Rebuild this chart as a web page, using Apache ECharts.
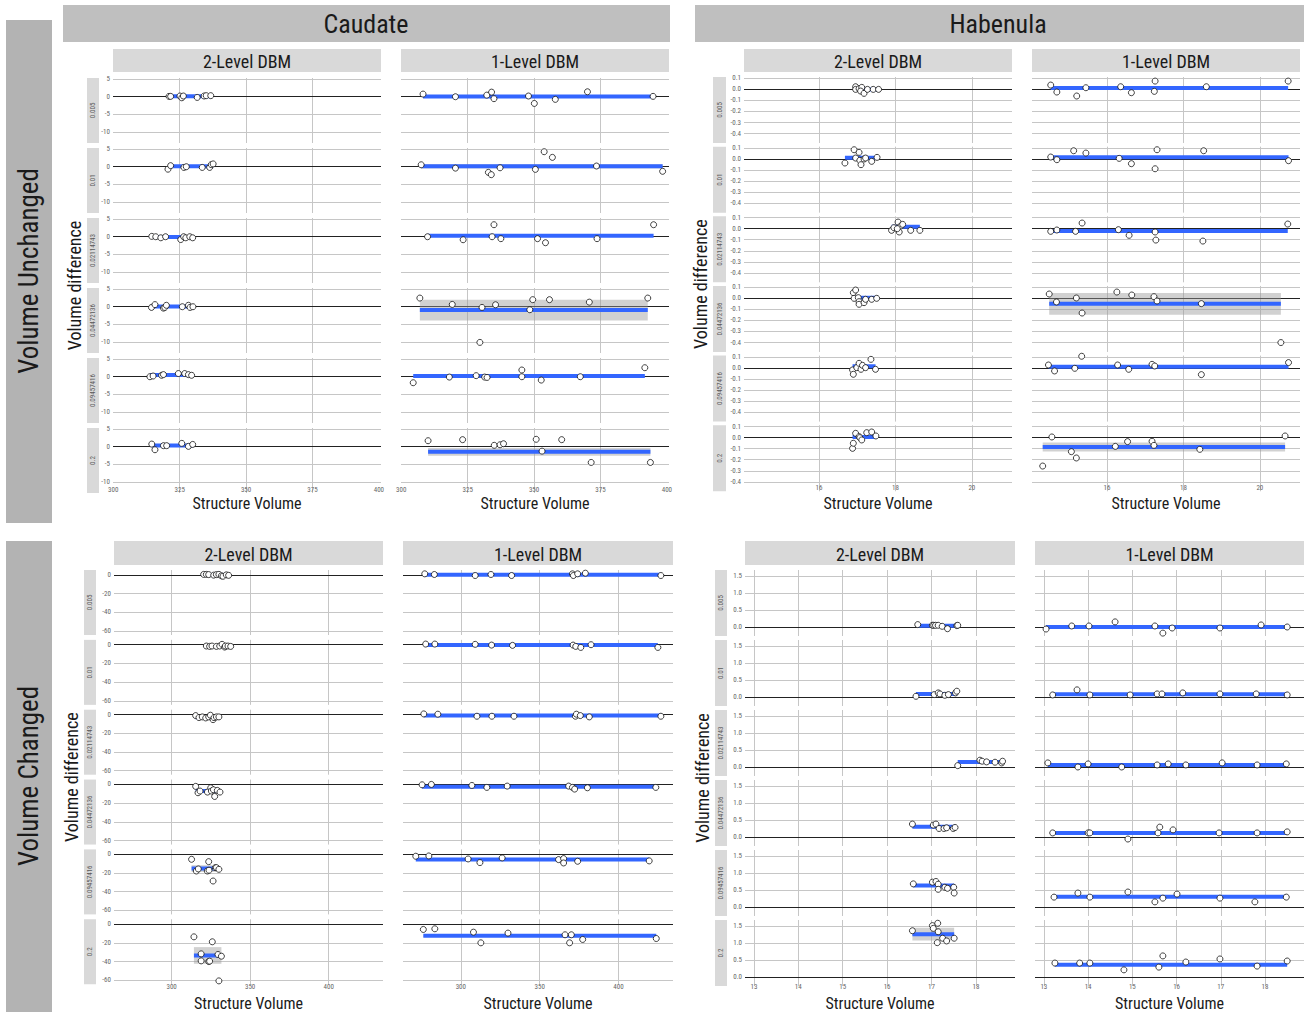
<!DOCTYPE html>
<html>
<head>
<meta charset="UTF-8">
<title>Volume difference vs structure volume</title>
<script src="https://cdn.jsdelivr.net/npm/echarts@6/dist/echarts.min.js"></script>
<style>
  html, body { margin: 0; padding: 0; background: #fff; }
  #chart { width: 1304px; height: 1015px; }
</style>
</head>
<body>
<div id="chart"></div>
<script>
// facet labels
const rowLabels = ['0.005', '0.01', '0.02114743', '0.04472136', '0.09457416', '0.2'];
const colLabels = ['2-Level DBM', '1-Level DBM'];
const structures = ['Caudate', 'Habenula'];
const conditions = ['Volume Unchanged', 'Volume Changed'];

// Caudate, volume unchanged: [structure volume, volume difference]
const cauUnch2L = [
  [[321.0,0.1],[321.6,0.1],[325.1,0.2],[325.8,-0.3],[326.4,0.2],[331.6,-0.2],[334.2,0.2],[335.0,0.3],[336.7,0.3]],
  [[320.6,-0.7],[321.6,0.3],[326.6,-0.2],[327.5,0],[333.5,-0.2],[336.3,-0.2],[336.9,0.6],[337.6,0.8]],
  [[314.5,0.1],[316.0,0],[317.9,-0.3],[319.7,0],[325.4,-0.8],[326.5,0],[327.3,-0.3],[328.8,0],[329.9,-0.3]],
  [[314.4,-0.2],[315.7,0.6],[318.9,-0.4],[319.4,-0.2],[320.0,0.4],[326.0,0],[328.3,0.4],[328.9,-0.2],[330.0,0]],
  [[313.8,0],[315.0,0.2],[318.2,0.4],[318.9,0.6],[324.5,0.9],[326.9,0.9],[328.3,0.6],[329.5,0.4]],
  [[314.5,0.75],[315.7,-0.85],[318.9,0.3],[320.1,0.3],[325.8,0.95],[328.3,0.1],[329.9,0.65]]
];
const cauUnch1L = [
  [[308.2,0.75],[320.4,0],[332.2,0.45],[334.0,1.3],[334.9,-0.55],[347.9,0.2],[350.1,-1.9],[358.0,-0.75],[370.1,1.4],[394.8,0.1]],
  [[307.5,0.55],[320.4,-0.4],[332.8,-1.6],[333.9,-2.25],[337.2,-0.3],[350.5,-0.75],[353.8,4.25],[356.9,2.65],[373.5,0.2],[398.4,-1.3]],
  [[309.9,0],[323.3,-0.85],[334.2,0],[334.9,3.4],[337.5,-0.55],[351.3,-0.55],[354.3,-1.7],[373.7,-0.55],[395.0,3.4]],
  [[307.0,2.45],[319.2,0.65],[330.4,-0.2],[335.5,0.55],[349.5,2.0],[348.4,-0.85],[355.8,2.0],[370.8,1.3],[392.8,2.45],[329.6,-10.1]],
  [[304.5,-1.7],[318.1,-0.1],[328.2,0.3],[331.4,-0.1],[332.3,-0.2],[345.4,1.9],[345.4,0],[352.7,-0.95],[367.4,0],[391.7,2.55]],
  [[310.1,1.7],[323.1,2.0],[335.0,0.4],[337.2,0.55],[338.5,0.85],[350.8,2.1],[353.0,-1.25],[360.4,2.0],[371.5,-4.45],[393.8,-4.45]]
];
const cauUnchFit = [[0.1, 0.15, -0.1, 0.05, 0.5, 0.35], [0.05, 0.1, 0.3, -0.95, 0.19, -1.45]];
const cauUnchCi = [[0, 0, 0, 0, 0, 0], [0, 0.6, 0, 2.95, 0, 1.1]];

// Habenula, volume unchanged
const habUnch2L = [
  [[16.96,0.024],[16.96,0.0],[17.05,0.006],[17.12,0.018],[17.09,-0.015],[17.18,-0.036],[17.27,0],[17.42,0],[17.56,0]],
  [[16.68,-0.036],[16.92,0.084],[17.05,0.06],[16.96,0.009],[17.07,-0.012],[17.10,-0.051],[17.18,0],[17.22,0.009],[17.38,-0.021],[17.52,0.015]],
  [[17.90,-0.015],[17.96,0.009],[18.07,0.06],[18.14,0.024],[18.19,0.039],[18.10,-0.03],[18.05,0],[18.40,-0.015],[18.64,-0.015]],
  [[16.90,0.051],[16.96,0.075],[16.92,0],[17.03,0.006],[17.05,-0.03],[17.05,-0.054],[17.18,-0.039],[17.22,-0.009],[17.38,-0.009],[17.51,0]],
  [[16.88,-0.018],[16.90,-0.057],[16.99,0.003],[17.05,0.042],[17.10,-0.012],[17.14,0.024],[17.22,0.003],[17.36,0.078],[17.48,-0.012]],
  [[16.88,-0.097],[16.90,-0.051],[16.96,0.039],[17.05,0.009],[17.07,0],[17.12,-0.021],[17.25,0.045],[17.38,0.051],[17.49,0.015]]
];
const habUnch1L = [
  [[14.53,0.039],[14.69,-0.024],[15.21,-0.06],[15.45,0.015],[16.36,0.024],[16.64,-0.03],[17.24,-0.018],[17.26,0.075],[18.60,0.024],[20.74,0.075]],
  [[14.53,0.018],[14.69,-0.006],[15.13,0.075],[15.45,0.054],[16.32,0.006],[16.64,-0.042],[17.26,-0.088],[17.31,0.084],[18.53,0.075],[20.75,-0.015]],
  [[14.53,-0.024],[14.69,-0.012],[15.18,-0.024],[15.35,0.051],[16.30,-0.009],[16.58,-0.06],[17.26,-0.03],[17.28,-0.103],[18.51,-0.112],[20.73,0.042]],
  [[14.49,0.039],[14.68,-0.033],[15.20,0.003],[15.35,-0.133],[16.26,0.057],[16.65,0.03],[17.23,0.015],[17.31,-0.024],[18.47,-0.048],[20.55,-0.40]],
  [[14.47,0.027],[14.63,-0.027],[15.16,-0.003],[15.34,0.106],[16.28,0.027],[16.57,-0.012],[17.18,0.033],[17.25,0.018],[18.47,-0.06],[20.75,0.049]],
  [[14.56,0.006],[14.32,-0.257],[15.07,-0.127],[15.20,-0.184],[16.22,-0.079],[16.54,-0.036],[17.18,-0.033],[17.23,-0.07],[18.43,-0.106],[20.66,0.015]]
];
const habUnchFit = [[0.0, 0.012, 0.018, 0.005, 0.015, 0.005], [0.012, 0.016, -0.022, -0.05, 0.012, -0.085]];
const habUnchCi = [[0, 0, 0, 0, 0, 0], [0, 0, 0, 0.098, 0, 0.04]];

// Caudate, volume changed
const cauChg2L = [
  [[320.4,0.5],[322.1,0.5],[323.6,0.3],[326.8,-0.3],[328.5,0.3],[330.1,0.5],[331.7,-1],[332.7,-1.5],[334.8,0],[336.3,-0.5]],
  [[322.1,-1.4],[324.2,-1.8],[325.7,-1.4],[328.5,-1.8],[330.6,-1.4],[332.1,0.4],[333.8,-2.5],[334.2,-1.4],[335.9,-1.4],[337.6,-1.8]],
  [[315.3,-1.1],[317.4,-3.2],[319.5,-2.5],[321.7,-3.6],[323.6,-2.5],[324.7,-0.7],[326.4,-5.4],[327.0,-3.2],[328.5,-2.5],[330.1,-2.5]],
  [[315.3,-2.1],[316.8,-8.9],[318.1,-7.1],[322.8,-8.2],[324.9,-3.6],[325.3,-7.1],[326.6,-5.7],[327.4,-12.9],[329.1,-6.4],[330.8,-8.2]],
  [[312.7,-5.4],[315.7,-17.9],[317.0,-15.7],[322.7,-17.9],[323.6,-7.9],[323.8,-17.1],[326.4,-28.6],[327.8,-14.3],[328.5,-14.3],[330.1,-16.1]],
  [[314.2,-13.6],[318.8,-31.8],[318.8,-39.3],[323.6,-40],[324.2,-39.6],[325.9,-18.9],[329.5,-32.5],[331.7,-34.3],[330.1,-60.7]]
];
const cauChg1L = [
  [[277.1,1.1],[283.2,0.4],[309.1,-0.7],[319.1,0.4],[332.2,-0.7],[370.8,1.1],[371.4,-0.7],[374.1,1.1],[379.0,1.8],[426.9,-0.7]],
  [[277.7,0.7],[283.5,0.7],[309.1,0.4],[319.5,-0.4],[332.8,-0.7],[371.2,-0.4],[372.9,-1.8],[376.1,-2.9],[382.6,0],[425.0,-2.9]],
  [[276.5,0.7],[285.4,0.4],[310.2,-1.8],[319.7,-1.8],[333.7,-1.8],[372.7,-1.8],[373.3,0.4],[375.8,-1.1],[381.5,-2.5],[426.9,-1.8]],
  [[275.4,-0.4],[281.3,0],[307.0,-1.1],[316.5,-3.2],[329.4,-1.8],[368.4,-1.8],[370.8,-3.2],[372.2,-5.0],[380.3,-3.6],[423.7,-3.2]],
  [[271.4,-2.1],[279.7,-1.8],[304.6,-5.0],[312.1,-8.9],[326.2,-3.9],[362.0,-5.7],[365.2,-4.6],[365.2,-9.3],[374.1,-7.5],[419.5,-7.1]],
  [[276.2,-5.7],[283.5,-5.0],[308.0,-8.6],[312.7,-20],[329.9,-9.6],[366.1,-11.4],[369.0,-20],[370.1,-11.4],[377.3,-16.4],[424.0,-15.4]]
];
const cauChgFit = [[-0.1, -1.5, -3.0, -7.0, -15.3, -33.5], [0, -0.4, -1.1, -2.5, -5.7, -12.5]];
const cauChgCi = [[0, 0, 0, 1.5, 3.6, 8.9], [0, 0, 0, 0, 0, 1.2]];

// Habenula, volume changed
const habChg2L = [
  [[16.69,0.07],[17.02,0.05],[17.05,0.05],[17.09,0.05],[17.15,0.05],[17.24,0.02],[17.36,-0.05],[17.57,0.04],[17.59,0.05]],
  [[16.65,0.02],[17.06,0.07],[17.15,0.12],[17.19,0.09],[17.30,0.05],[17.38,0.07],[17.54,0.12],[17.57,0.17]],
  [[17.59,0.04],[18.09,0.20],[18.14,0.17],[18.24,0.15],[18.43,0.14],[18.58,0.12],[18.60,0.17]],
  [[16.57,0.38],[17.04,0.35],[17.10,0.38],[17.17,0.25],[17.28,0.25],[17.34,0.27],[17.49,0.25],[17.53,0.28]],
  [[16.59,0.68],[17.02,0.73],[17.10,0.75],[17.15,0.67],[17.15,0.52],[17.30,0.58],[17.36,0.55],[17.50,0.58],[17.51,0.41]],
  [[16.57,1.36],[17.02,1.51],[17.04,1.43],[17.14,1.58],[17.15,1.33],[17.13,1.01],[17.25,1.14],[17.34,1.06],[17.51,1.14]]
];
const habChg1L = [
  [[13.05,-0.06],[13.63,0.03],[14.02,0.03],[14.61,0.15],[15.51,0.03],[15.69,-0.18],[15.90,-0.03],[16.98,-0.03],[17.91,0.06],[18.50,0]],
  [[13.20,0.06],[13.75,0.21],[14.04,0.06],[14.95,0.06],[15.56,0.09],[15.67,0.09],[16.14,0.12],[16.98,0.09],[17.80,0.09],[18.50,0.06]],
  [[13.09,0.12],[13.77,0],[14.00,0.09],[14.76,0],[15.56,0.06],[15.81,0.09],[16.21,0.06],[17.03,0.12],[17.82,0.06],[18.48,0.09]],
  [[13.20,0.12],[14.00,0.12],[14.04,0.12],[14.90,-0.06],[15.58,0.12],[15.62,0.29],[15.92,0.21],[16.96,0.12],[17.82,0.12],[18.50,0.15]],
  [[13.23,0.29],[13.77,0.41],[14.04,0.29],[14.90,0.44],[15.51,0.15],[15.69,0.26],[16.01,0.38],[16.98,0.26],[17.77,0.15],[18.48,0.29]],
  [[13.25,0.41],[13.81,0.41],[14.04,0.41],[14.81,0.21],[15.60,0.29],[15.69,0.62],[16.21,0.44],[16.98,0.53],[17.82,0.32],[18.50,0.47]]
];
const habChgFit = [[0.04, 0.09, 0.15, 0.30, 0.63, 1.26], [0.0, 0.08, 0.06, 0.12, 0.30, 0.36]];
const habChgCi = [[0, 0, 0, 0, 0, 0.19], [0, 0, 0, 0, 0, 0]];

// axis ticks
const cauUnchYTicks = [-10, -5, 0, 5];
const cauUnchXTicks = [300, 325, 350, 375, 400];
const habUnchYTicks = [-0.4, -0.3, -0.2, -0.1, 0, 0.1];
const habUnchXTicks = [16, 18, 20];
const cauChgYTicks = [-60, -40, -20, 0];
const cauChgXTicks = [300, 350, 400];
const habChgYTicks = [0, 0.5, 1, 1.5];
const habChgXTicks = [13, 14, 15, 16, 17, 18];

const FONT = "'Liberation Sans Narrow', 'Roboto Condensed', Roboto, sans-serif";
const GRID = '#c6c6c6';
const BLUE = '#3366ff';
const OFF = { show: false, lineStyle: { opacity: 0 } };

// layout of the four blocks
const quads = [
  { pts: [cauUnch2L, cauUnch1L], fit: cauUnchFit, ci: cauUnchCi,
    xMin: 299.9, xMax: 400.8, yMin: -13.1, yMax: 5.3, xTicks: cauUnchXTicks, yTicks: cauUnchYTicks, dec: 0,
    left: [113, 401], width: [268, 268], top: 78, step: 70, h: 65, xLabMargin: -7,
    stripTop: 49, stripH: 23, rowStripX: 87, rowStripW: 12, yTitleX: 74, xTitleY: 503 },
  { pts: [habUnch2L, habUnch1L], fit: habUnchFit, ci: habUnchCi,
    xMin: 14.04, xMax: 21.05, yMin: -0.485, yMax: 0.112, xTicks: habUnchXTicks, yTicks: habUnchYTicks, dec: 1,
    left: [744, 1032], width: [268, 268], top: 77, step: 69.65, h: 66, xLabMargin: -7,
    stripTop: 49, stripH: 23, rowStripX: 713, rowStripW: 13, yTitleX: 700, xTitleY: 503 },
  { pts: [cauChg2L, cauChg1L], fit: cauChgFit, ci: cauChgCi,
    xMin: 263.3, xMax: 434.6, yMin: -64.3, yMax: 5.2, xTicks: cauChgXTicks, yTicks: cauChgYTicks, dec: 0,
    left: [114, 403], width: [269, 270], top: 570, step: 69.85, h: 65, xLabMargin: -1,
    stripTop: 541, stripH: 24, rowStripX: 84, rowStripW: 12, yTitleX: 71, xTitleY: 1003 },
  { pts: [habChg2L, habChg1L], fit: habChgFit, ci: habChgCi,
    xMin: 12.8, xMax: 18.88, yMin: -0.265, yMax: 1.676, xTicks: habChgXTicks, yTicks: habChgYTicks, dec: 1,
    left: [745, 1035], width: [270, 269], top: 570, step: 70, h: 66, xLabMargin: -3,
    stripTop: 541, stripH: 24, rowStripX: 715, rowStripW: 12, yTitleX: 702, xTitleY: 1003 }
];

const grids = [], xAxes = [], yAxes = [], series = [], graphics = [];

function box(x, y, w, h, fill) {
  graphics.push({ type: 'rect', silent: true, shape: { x: x, y: y, width: w, height: h }, style: { fill: fill } });
}
function label(x, y, text, size, color, rotate) {
  graphics.push({
    type: 'text', silent: true, x: x, y: y, rotation: rotate ? Math.PI / 2 : 0,
    style: { text: text, fill: color, font: size + 'px ' + FONT, align: 'center', verticalAlign: 'middle' }
  });
}
// ticks that fall inside the panel get a grid line
function inside(v, lo, hi) {
  const pad = (hi - lo) * 0.01;
  return v > lo + pad && v < hi - pad;
}

// big headers
box(63, 5, 607, 37, '#bfbfbf');
label(366, 24, structures[0], 26, '#1a1a1a');
box(695, 5, 609, 37, '#bfbfbf');
label(998, 24, structures[1], 26, '#1a1a1a');
box(6, 20, 46, 503, '#b3b3b3');
label(29, 271, conditions[0], 27, '#1a1a1a', true);
box(6, 541, 46, 471, '#b3b3b3');
label(29, 776, conditions[1], 27, '#1a1a1a', true);

quads.forEach(q => {
  const rowsBottom = q.top + q.step * 5 + q.h;
  label(q.yTitleX, (q.top + rowsBottom) / 2, 'Volume difference', 18, '#1a1a1a', true);
  for (let r = 0; r < 6; r++) {
    const ty = q.top + q.step * r;
    box(q.rowStripX, ty, q.rowStripW, q.h, '#d9d9d9');
    label(q.rowStripX + q.rowStripW / 2, ty + q.h / 2, rowLabels[r], 7, '#5a5a5a', true);
  }
  const gridLines = [];
  q.yTicks.forEach(v => { if (inside(v, q.yMin, q.yMax)) gridLines.push({ yAxis: v }); });
  q.xTicks.forEach(v => { if (inside(v, q.xMin, q.xMax)) gridLines.push({ xAxis: v }); });

  for (let c = 0; c < 2; c++) {
    box(q.left[c], q.stripTop, q.width[c], q.stripH, '#d9d9d9');
    label(q.left[c] + q.width[c] / 2, q.stripTop + q.stripH / 2 + 1, colLabels[c], 18, '#1a1a1a');
    label(q.left[c] + q.width[c] / 2, q.xTitleY, 'Structure Volume', 16, '#1a1a1a');
    for (let r = 0; r < 6; r++) {
      const gi = grids.length;
      grids.push({ left: q.left[c], top: q.top + q.step * r, width: q.width[c], height: q.h, show: false });
      xAxes.push({
        type: 'value', gridIndex: gi, min: q.xMin, max: q.xMax,
        axisLine: { show: false },
        axisTick: { show: false, customValues: q.xTicks },
        axisLabel: { show: r === 5, customValues: q.xTicks, fontSize: 7, color: '#666', margin: q.xLabMargin, fontFamily: FONT },
        splitLine: OFF, minorSplitLine: OFF, splitArea: { show: false }
      });
      yAxes.push({
        type: 'value', gridIndex: gi, min: q.yMin, max: q.yMax,
        axisLine: { show: false },
        axisTick: { show: false, customValues: q.yTicks },
        axisLabel: {
          show: c === 0, customValues: q.yTicks, fontSize: 7, color: '#666', margin: 3, fontFamily: FONT,
          formatter: v => v.toFixed(q.dec)
        },
        splitLine: OFF, minorSplitLine: OFF, splitArea: { show: false }
      });
      const pts = q.pts[c][r];
      const xs = pts.map(p => p[0]);
      const lo = Math.min(...xs), hi = Math.max(...xs);
      const m = q.fit[c][r], ci = q.ci[c][r];
      // panel grid lines, then the zero reference line on top of them
      series.push({
        type: 'line', xAxisIndex: gi, yAxisIndex: gi, z: 0, silent: true,
        data: [[lo, m], [hi, m]], showSymbol: false, symbol: 'none',
        lineStyle: { opacity: 0 },
        markLine: {
          silent: true, symbol: 'none', z: 0, animation: false,
          label: { show: false },
          lineStyle: { color: GRID, width: 1, type: 'solid' },
          data: gridLines.concat([{ yAxis: 0, lineStyle: { color: '#222', width: 1.2 } }])
        }
      });
      series.push({
        type: 'line', xAxisIndex: gi, yAxisIndex: gi, z: 2,
        data: [[lo, m], [hi, m]], showSymbol: false, symbol: 'none', silent: true,
        lineStyle: { color: BLUE, width: 4, cap: 'butt' },
        markArea: ci > 0 ? {
          silent: true, z: 1, animation: false,
          itemStyle: { color: 'rgba(153,153,153,0.45)' },
          data: [[{ coord: [lo, m - ci] }, { coord: [hi, m + ci] }]]
        } : undefined
      });
      series.push({
        type: 'scatter', xAxisIndex: gi, yAxisIndex: gi, z: 3, silent: true,
        data: pts, symbolSize: 6,
        itemStyle: { color: '#fff', borderColor: '#111', borderWidth: 0.8, opacity: 1 }
      });
    }
  }
});

const chart = echarts.init(document.getElementById('chart'), null, { renderer: 'svg' });
chart.setOption({
  animation: false,
  backgroundColor: '#fff',
  grid: grids,
  xAxis: xAxes,
  yAxis: yAxes,
  series: series,
  graphic: graphics
});
</script>
</body>
</html>
